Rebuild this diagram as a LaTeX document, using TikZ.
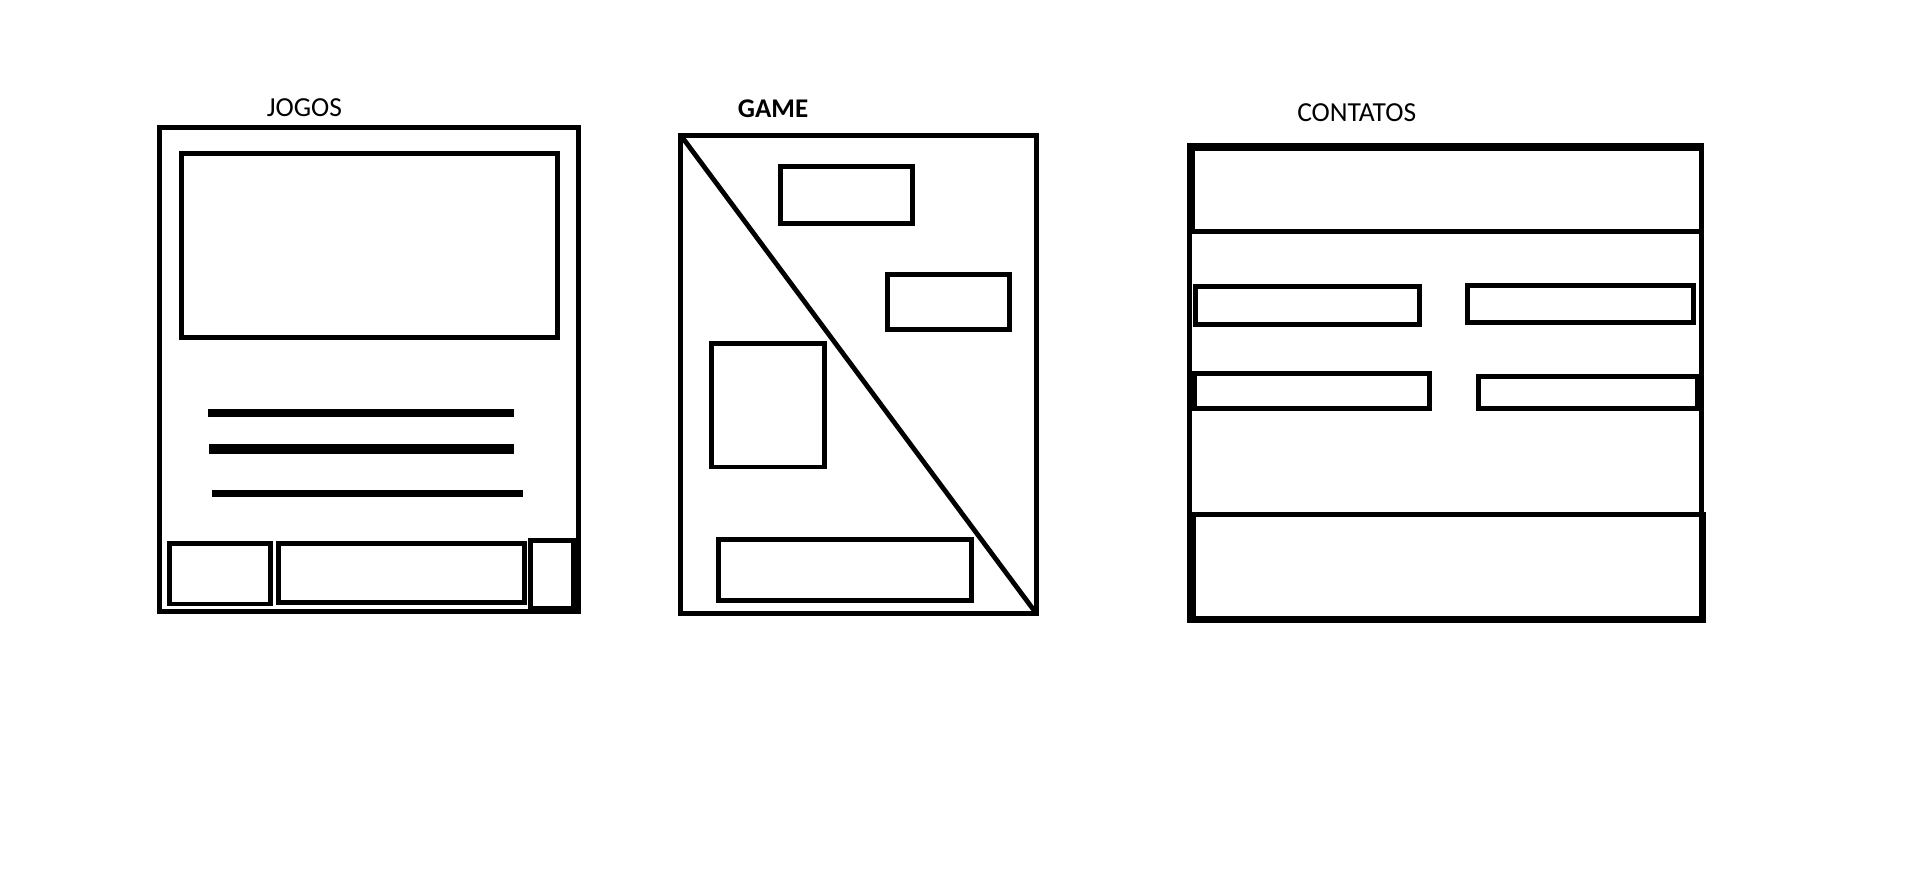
\documentclass[tikz,border=0pt]{standalone}
\usepackage{fontspec}
\setmainfont{Carlito}
\begin{document}
\begin{tikzpicture}[x=1pt,y=-1pt,
  frame/.style={draw=black, line width=4.8pt},
  bar/.style={draw=black},
  lbl/.style={inner sep=0pt, anchor=base, font=\fontsize{27.5}{31}\selectfont}]
\useasboundingbox (0,0) rectangle (1914,871);
\fill[white] (0,0) rectangle (1914,871);

% ---------- JOGOS ----------
\node[lbl] (jogos) at (304.5,116) {JOGOS};
\draw[frame] (159.7,127.7) rectangle (578.3,611.2);
\draw[frame] (181.5,153.6) rectangle (557.3,337.1);
\draw[bar, line width=8.5pt] (208,413.2) -- (514,413.2);
\draw[bar, line width=9.5pt] (209,448.8) -- (514,448.8);
\draw[bar, line width=7pt] (212,493.6) -- (523,493.6);
\draw[frame] (169.7,543.8) rectangle (270.3,603.9);
\draw[frame] (278.3,543.6) rectangle (524.5,602.3);
\draw[frame] (530.7,540.3) rectangle (573.3,608.3);

% ---------- GAME ----------
\node[lbl, font=\fontsize{27}{31}\selectfont\bfseries] (game) at (773,117.5) {GAME};
\draw[frame] (680.7,135.4) rectangle (1036.3,613.2);
\draw[bar, line width=4.8pt] (682,137) -- (1034.5,611);
\draw[frame] (780.8,166.6) rectangle (912.3,223.4);
\draw[frame] (887.5,274.8) rectangle (1009.2,329.5);
\draw[frame] (711.5,343.8) rectangle (824.2,467);
\draw[frame] (718.7,539.8) rectangle (971.3,600.7);

% ---------- CONTATOS ----------
\node[lbl] (contatos) at (1356.7,121.5) {CONTATOS};
\draw[bar, line width=7.4pt] (1187,147) -- (1704.3,147);
\draw[bar, line width=7.9pt] (1191,143.3) -- (1191,233.9);
\draw[bar, line width=5pt] (1189.5,229) -- (1189.5,517);
\draw[bar, line width=9pt] (1191.5,512) -- (1191.5,622.6);
\draw[bar, line width=5.7pt] (1701.5,143.3) -- (1701.5,622.6);
\draw[bar, line width=7pt] (1702.2,512) -- (1702.2,622.6);
\draw[bar, line width=4.9pt] (1187,231.5) -- (1704.3,231.5);
\draw[bar, line width=5.3pt] (1187,514.8) -- (1705.7,514.8);
\draw[bar, line width=6.4pt] (1187,619.4) -- (1705.7,619.4);
\draw[frame] (1195.4,286.5) rectangle (1419.6,324.4);
\draw[frame] (1467.5,285.5) rectangle (1693.5,322.3);
\draw[frame] (1194.5,373.5) rectangle (1429.6,408.3);
\draw[frame] (1478.5,376.7) rectangle (1697,408.3);
\end{tikzpicture}
\end{document}
